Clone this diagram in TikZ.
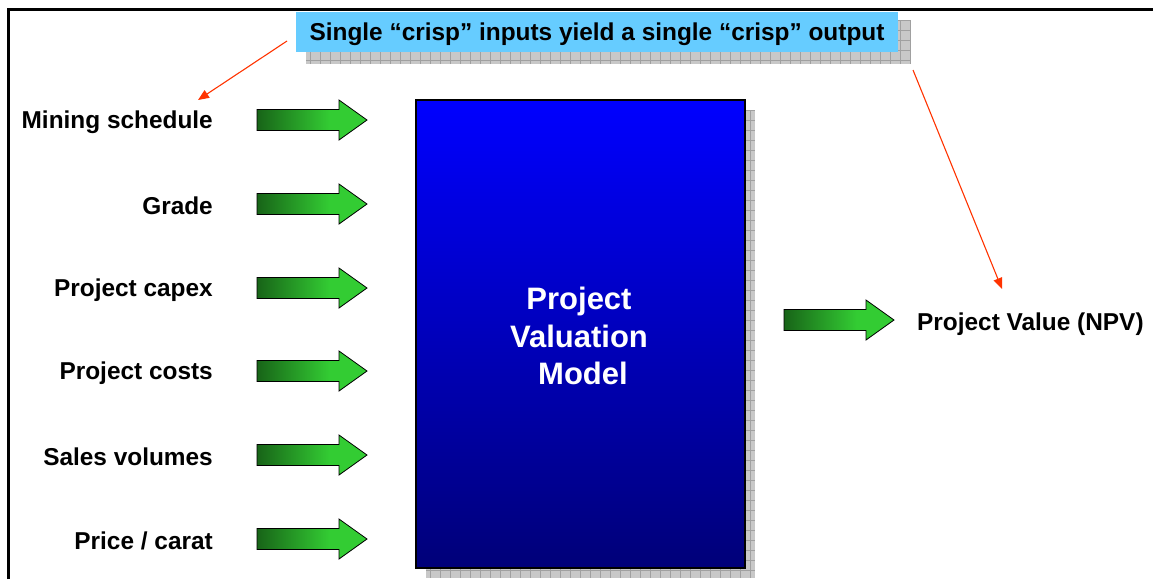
\documentclass[tikz,border=0pt]{standalone}
\usepackage{fontspec}
\setmainfont{Liberation Sans}
\usetikzlibrary{arrows.meta,calc}

\definecolor{gdark}{RGB}{24,100,24}
\definecolor{glight}{RGB}{51,204,51}
\definecolor{titlecyan}{RGB}{102,204,255}
\definecolor{callred}{RGB}{255,51,0}
\definecolor{shadowfill}{RGB}{200,200,200}
\definecolor{shadowgrid}{RGB}{160,160,160}
\definecolor{boxtop}{RGB}{0,0,255}
\definecolor{boxbottom}{RGB}{0,0,120}

% shaft dark on the left, bright green from about two thirds along
\pgfdeclarehorizontalshading{arrowgreen}{100bp}{color(0bp)=(gdark); color(25bp)=(gdark); color(58bp)=(glight); color(100bp)=(glight)}

\tikzset{
  lbl/.style={font=\bfseries\fontsize{24.4}{29}\selectfont, anchor=east, inner sep=0pt},
  outlbl/.style={font=\bfseries\fontsize{24.4}{29}\selectfont, anchor=west, inner sep=0pt},
  modeltext/.style={font=\bfseries\fontsize{31}{37.5}\selectfont, text=white, align=center, inner sep=0pt},
  titlebox/.style={fill=titlecyan, minimum width=602pt, minimum height=40pt, inner sep=0pt,
                   font=\bfseries\fontsize{24.4}{29}\selectfont},
  callout/.style={draw=callred, line width=1.1pt, -{Triangle[length=11pt,width=9pt]}},
  garrow/.pic={
    \shadedraw[shading=arrowgreen, draw=black, line width=0.8pt]
      (0,-10.5) -- (82,-10.5) -- (82,-20) -- (110,0) -- (82,20) -- (82,10.5) -- (0,10.5) -- cycle;
  }
}

\begin{document}
\begin{tikzpicture}[x=1pt,y=-1pt]
\useasboundingbox (0,0) rectangle (1153,579);

% frame
\draw[line width=3pt] (8.5,579) -- (8.5,9.5) -- (1153,9.5);

% title with grid shadow
\fill[shadowfill] (306,20) rectangle (910,64);
\draw[shadowgrid, line width=0.5pt, step=10pt] (306,20) grid (910,64);
\fill[titlecyan] (296,12) rectangle (898,52);
\node[font=\bfseries\fontsize{24.4}{29}\selectfont, inner sep=0pt] (title) at (597,34) {Single “crisp” inputs yield a single “crisp” output};

% model box with grid shadow
\fill[shadowfill] (426,110) rectangle (755,578);
\draw[shadowgrid, line width=0.5pt, step=10pt] (426,110) grid (755,578);
\shade[top color=boxtop, bottom color=boxbottom] (416,100) rectangle (745,568);
\draw[line width=1.6pt] (416,100) rectangle (745,568);
\node[modeltext] (model) at (579,336) {Project\\Valuation\\\hspace*{8pt}Model};

% inputs
\foreach \name/\txt/\yy in {ms/{Mining schedule}/120, gr/{Grade}/204, cx/{Project capex}/288,
                            pc/{Project costs}/371, sv/{Sales volumes}/455, pr/{Price / carat}/539}{
  \node[lbl] (\name) at (213,\yy+2) {\txt};
  \pic at (257,\yy) {garrow};
}

% output
\pic at (784,320) {garrow};
\node[outlbl] (npv) at (917,324) {Project Value (NPV)};

% callout arrows from the title
\coordinate (cl) at (287,41);
\coordinate (cr) at (913,70);
\coordinate (tl) at (198,100);
\coordinate (tr) at (1002,289);
\draw[callout] (cl) -- (tl);
\draw[callout] (cr) -- (tr);
\end{tikzpicture}
\end{document}
